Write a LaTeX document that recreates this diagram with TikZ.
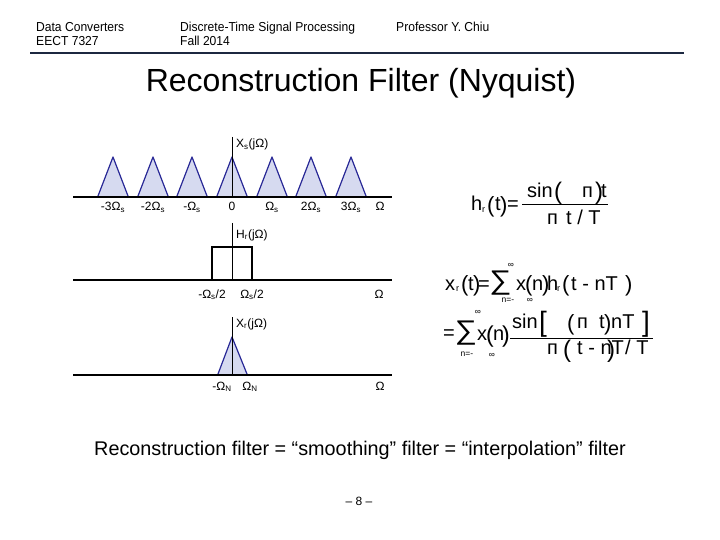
\documentclass[tikz,border=0pt]{standalone}
\usepackage{fontspec}
\setmainfont{Liberation Sans}
\newcommand{\myfs}[1]{\fontsize{#1}{#1}\selectfont}
\definecolor{navy}{RGB}{28,40,64}
\definecolor{triedge}{RGB}{40,40,150}
\definecolor{trifill}{RGB}{214,218,240}
\begin{document}
\begin{tikzpicture}[x=1pt,y=-1pt,
  txt/.style={inner sep=0pt,anchor=base west},
  ctr/.style={inner sep=0pt,anchor=base},
  hdr/.style={txt,font=\myfs{13},xscale=0.93},
  lab/.style={ctr,font=\myfs{12}},
  eq/.style={txt,font=\myfs{20}},
  eqs/.style={txt,font=\myfs{9}},
  sm/.style={inner sep=0pt,anchor=center,font=\myfs{8.5}},
  sig/.style={inner sep=0pt,anchor=center,font=\myfs{27},xscale=1.15},
  axis/.style={line width=1.6pt,black},
  vax/.style={line width=0.7pt,black},
  tri/.style={draw=triedge,fill=trifill,line width=1.2pt,line join=round},
  box/.style={draw=black,line width=1.5pt}]
\useasboundingbox (0,0) rectangle (720,540);
% header
\node[hdr] (h1) at (36,32) {Data Converters};
\node[hdr] (h2) at (36,46) {EECT 7327};
\node[hdr] (h3) at (180,32) {Discrete-Time Signal Processing};
\node[hdr] (h4) at (180,46) {Fall 2014};
\node[hdr] (h5) at (396,32) {Professor Y. Chiu};
\coordinate (rl) at (30,53);
\coordinate (rr) at (684,53);
\draw[navy,line width=2.6pt] (rl) -- (rr);
\node[ctr,font=\myfs{32}] (title) at (361,92) {Reconstruction Filter (Nyquist)};
% plot 1
\foreach \c [count=\i] in {113,153,192,232,272,311,351}{
  \coordinate (p\i) at (\c,157);
  \coordinate (l\i) at (\c-15,196);
  \coordinate (r\i) at (\c+15,196);
  \draw[tri] (l\i) -- (p\i) -- (r\i);
}
\coordinate (a1l) at (73,197);
\coordinate (a1r) at (392,197);
\coordinate (v1t) at (232,137);
\coordinate (v1b) at (232,197);
\draw[vax] (v1t) -- (v1b);
\draw[axis] (a1l) -- (a1r);
\node[txt,font=\myfs{12}] (xs) at (236,148) {X\textsubscript{s}(jΩ)};
\node[lab] (m3) at (113,211) {-3Ω\textsubscript{s}};
\node[lab] (m2) at (153,211) {-2Ω\textsubscript{s}};
\node[lab] (m1) at (192,211) {-Ω\textsubscript{s}};
\node[lab] (z0) at (232,211) {0};
\node[lab] (q1) at (272,211) {Ω\textsubscript{s}};
\node[lab] (q2) at (311,211) {2Ω\textsubscript{s}};
\node[lab] (q3) at (351,211) {3Ω\textsubscript{s}};
\node[lab] (om1) at (380,211) {Ω};
% plot 2
\coordinate (a2l) at (73,280);
\coordinate (a2r) at (392,280);
\coordinate (v2t) at (232,223);
\coordinate (v2b) at (232,280);
\coordinate (bx1) at (212,280);
\coordinate (bx2) at (212,247);
\coordinate (bx3) at (252,247);
\coordinate (bx4) at (252,280);
\draw[box] (bx1) -- (bx2) -- (bx3) -- (bx4);
\draw[vax] (v2t) -- (v2b);
\draw[axis] (a2l) -- (a2r);
\node[txt,font=\myfs{12}] (hr) at (236,238) {H\textsubscript{r}(jΩ)};
\node[lab] (hl) at (212,298) {-Ω\textsubscript{s}/2};
\node[lab] (hh) at (252,298) {Ω\textsubscript{s}/2};
\node[lab] (om2) at (379,298) {Ω};
% plot 3
\coordinate (a3l) at (73,375);
\coordinate (a3r) at (392,375);
\coordinate (v3t) at (232,317);
\coordinate (v3b) at (232,375);
\coordinate (t3p) at (232,337);
\coordinate (t3l) at (218,374);
\coordinate (t3r) at (247,374);
\draw[tri] (t3l) -- (t3p) -- (t3r);
\draw[vax] (v3t) -- (v3b);
\draw[axis] (a3l) -- (a3r);
\node[txt,font=\myfs{12}] (xr) at (236,327) {X\textsubscript{r}(jΩ)};
\node[lab] (nl) at (222,390) {-Ω\textsubscript{N}};
\node[lab] (nh) at (250,390) {Ω\textsubscript{N}};
\node[lab] (om3) at (380,390) {Ω};
% equation 1
\node[eq] (e1a) at (471,211) {h};
\node[eqs] (e1b) at (482,212) {r};
\node[txt,font=\myfs{22}] (e1c) at (487,212) {(};
\node[eq] (e1d) at (495,211) {t};
\node[txt,font=\myfs{22}] (e1e) at (500,212) {)};
\node[eq] (e1f) at (507,211) {=};
\coordinate (f1l) at (522,205);
\coordinate (f1r) at (608,205);
\draw[line width=1pt] (f1l) -- (f1r);
\node[eq] (e1g) at (527,198) {sin};
\node[txt,font=\myfs{24}] (e1h) at (554,200) {(};
\node[eq] (e1i) at (582,198) {п};
\node[txt,font=\myfs{24}] (e1j) at (595,200) {)};
\node[eq] (e1k) at (601,198) {t};
\node[eq] (e1l) at (547,225) {п};
\node[eq] (e1m) at (566,225) {t / T};
% equation 2, line 1
\node[eq] (e2a) at (445,290) {x};
\node[eqs] (e2b) at (456,291) {r};
\node[txt,font=\myfs{22}] (e2c) at (461,291) {(};
\node[eq] (e2d) at (468,290) {t};
\node[txt,font=\myfs{22}] (e2e) at (473,291) {)};
\node[eq] (e2f) at (478,290) {=};
\node[sig] (e2g) at (500.5,283) {∑};
\node[sm] (e2h) at (511,265) {∞};
\node[sm] (e2i) at (508,300) {n=-};
\node[sm] (e2j) at (530,300) {∞};
\node[eq] (e2k) at (516,290) {x};
\node[txt,font=\myfs{22}] (e2l) at (525,291) {(};
\node[eq] (e2m) at (532,290) {n};
\node[txt,font=\myfs{22}] (e2n) at (542,291) {)};
\node[eq] (e2o) at (547,290) {h};
\node[eqs] (e2p) at (557,291) {r};
\node[txt,font=\myfs{22}] (e2q) at (562,291) {(};
\node[eq] (e2r) at (571,290) {t - nT};
\node[txt,font=\myfs{22}] (e2s) at (625,291) {)};
% equation 2, line 2
\node[eq] (e3a) at (443,339) {=};
\node[sig] (e3b) at (466,333) {∑};
\node[sm] (e3c) at (478,312) {∞};
\node[sm] (e3d) at (467,354) {n=-};
\node[sm] (e3e) at (492,355) {∞};
\node[eq] (e3f) at (477,340) {x};
\node[txt,font=\myfs{23}] (e3g) at (486,342) {(};
\node[eq] (e3h) at (493,340) {n};
\node[txt,font=\myfs{23}] (e3i) at (502,342) {)};
\coordinate (f2l) at (510,338);
\coordinate (f2r) at (653,338);
\draw[line width=1pt] (f2l) -- (f2r);
\node[eq] (e3j) at (512,328) {sin};
\node[txt,font=\myfs{28}] (e3k) at (539,331) {[};
\node[txt,font=\myfs{22}] (e3l) at (567,330) {(};
\node[eq] (e3m) at (577,328) {п};
\node[eq] (e3n) at (599,328) {t};
\node[txt,font=\myfs{22}] (e3o) at (604,330) {)};
\node[eq] (e3p) at (611,328) {nT};
\node[txt,font=\myfs{28}] (e3q) at (642,331) {]};
\node[eq] (e3r) at (547,354) {п};
\node[txt,font=\myfs{24}] (e3s) at (563,357) {(};
\node[eq] (e3t) at (577,354) {t - nT};
\node[txt,font=\myfs{24}] (e3u) at (607,357) {)};
\node[eq] (e3v) at (625,354) {/ T};
% bottom
\node[ctr,font=\myfs{19.8}] (bot) at (360,455) {Reconstruction filter = “smoothing” filter = “interpolation” filter};
\node[ctr,font=\myfs{12}] (pg) at (359,505) {– 8 –};
\end{tikzpicture}
\end{document}
